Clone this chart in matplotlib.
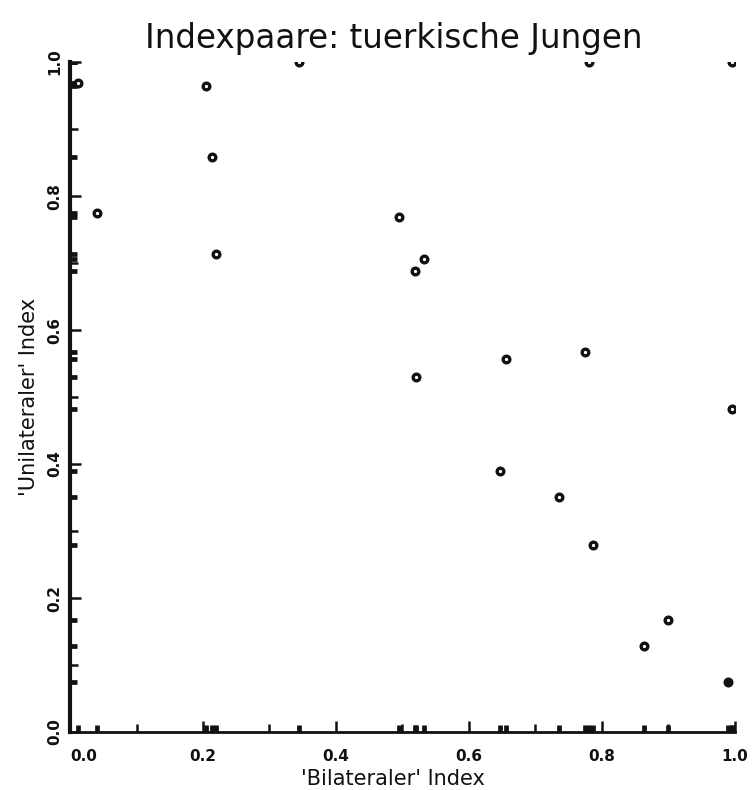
"""Scatter of index pairs with rug marks on both axes (scanned-plot look)."""

import matplotlib
matplotlib.use("Agg")
import matplotlib.pyplot as plt
from matplotlib.ticker import MultipleLocator

# ── Data ──────────────────────────────────────────────────────────────────────
bilateral = [0.012, 0.040, 0.205, 0.214, 0.219, 0.344, 0.495, 0.519, 0.532,
             0.520, 0.656, 0.775, 0.647, 0.736, 0.787, 0.995, 0.863, 0.899,
             0.990, 0.781, 0.995]
unilateral = [0.969, 0.775, 0.964, 0.858, 0.713, 1.000, 0.769, 0.688, 0.706,
              0.530, 0.557, 0.567, 0.390, 0.351, 0.279, 0.482, 0.128, 0.167,
              0.075, 1.000, 1.000]
filled = [False] * 18 + [True] + [False] * 2

ticks = [0.0, 0.2, 0.4, 0.6, 0.8, 1.0]
tick_labels = ["0.0", "0.2", "0.4", "0.6", "0.8", "1.0"]

title = "Indexpaare: tuerkische Jungen"
xlabel = "'Bilateraler' Index"
ylabel = "'Unilateraler' Index"

INK = "#111111"

fig = plt.figure(figsize=(7.53, 7.90), dpi=100)
ax = fig.add_axes([0.093, 0.0734, 0.883, 0.848])
ax.set_xlim(0, 1.0)
ax.set_ylim(0, 1.0)

# small thick open circles (one filled)
for x, y, f in zip(bilateral, unilateral, filled):
    ax.plot(x, y, "o", ms=4.8, mew=2.4, mec=INK,
            mfc=INK if f else "white", clip_on=True, zorder=3)

# rug marks: projections of the points onto both axes
ax.plot(bilateral, [0] * len(bilateral), "|", ms=10, mew=3.4, color=INK,
        clip_on=True, zorder=4)
ax.plot([0] * len(unilateral), unilateral, "_", ms=10, mew=3.4, color=INK,
        clip_on=True, zorder=2)

# spines / ticks
for side in ("top", "right"):
    ax.spines[side].set_visible(False)
ax.spines["left"].set_linewidth(3.0)
ax.spines["bottom"].set_linewidth(2.0)
for side in ("left", "bottom"):
    ax.spines[side].set_color(INK)

ax.set_xticks(ticks, tick_labels)
ax.set_yticks(ticks, tick_labels)
ax.xaxis.set_minor_locator(MultipleLocator(0.1))
ax.yaxis.set_minor_locator(MultipleLocator(0.1))

ax.tick_params(which="both", direction="in", color=INK, width=1.8)
ax.tick_params(which="major", length=8)
ax.tick_params(which="minor", length=6)
ax.tick_params(axis="x", which="major", pad=12, labelsize=11)
ax.tick_params(axis="y", which="major", pad=5.5, labelsize=11,
               labelrotation=90)
for lab in ax.get_xticklabels() + ax.get_yticklabels():
    lab.set_fontweight("bold")
    lab.set_color(INK)
for lab in ax.get_yticklabels():
    lab.set_verticalalignment("center")
ax.get_xticklabels()[0].set_horizontalalignment("left")

# title and axis labels placed in figure coordinates
fig.text(0.523, 1 - 48 / 790, title, ha="center", va="baseline",
         fontsize=23.5, color=INK)
fig.text(0.522, 0.006, xlabel, ha="center", va="baseline",
         fontsize=15, color=INK)
fig.text(0.0385, 0.497, ylabel, ha="center", va="center", rotation=90,
         fontsize=15, color=INK)

fig.savefig("out.png", dpi=100, facecolor="white")
plt.close(fig)
